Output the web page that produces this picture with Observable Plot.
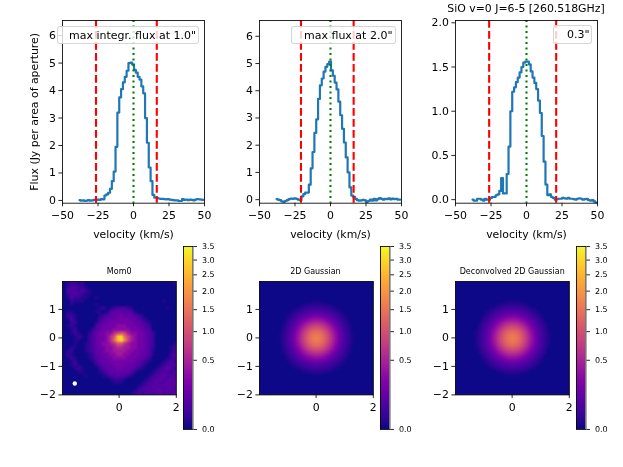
<!DOCTYPE html>
<html><head><meta charset="utf-8">
<script src="https://cdn.jsdelivr.net/npm/d3@7"></script>
<script src="https://cdn.jsdelivr.net/npm/@observablehq/plot@0.6"></script>
<style>
html,body{margin:0;padding:0;background:#fff}
#page{position:relative;width:623px;height:467px;overflow:hidden;font-family:"DejaVu Sans",sans-serif;color:#000;filter:blur(.3px)}
#page svg{position:absolute;background:transparent;overflow:visible;max-width:none}
.legend{position:absolute;box-sizing:border-box;background:rgba(255,255,255,.8);border:1px solid rgba(204,204,204,.8);border-radius:3px;font-size:11px;line-height:17px;white-space:pre}
.title{position:absolute;white-space:nowrap;transform:translateX(-50%)}
</style></head><body><div id="page"></div>
<script>
const velocity=[-38,-36.7,-35.4,-34.1,-32.8,-31.5,-30.2,-28.9,-27.6,-26.3,-25,-23.7,-22.4,-21.1,-19.8,-18.5,-17.2,-15.9,-14.6,-13.3,-12,-10.7,-9.4,-8.1,-6.8,-5.5,-4.2,-2.9,-1.6,-0.3,1,2.3,3.6,4.9,6.2,7.5,8.8,10.1,11.4,12.7,14,15.3,16.6,17.9,19.2,20.5,21.8,23.1,24.4,25.7,27,28.3,29.6,30.9,32.2,33.5,34.8,36.1,37.4,38.7,40,41.3,42.6,43.9,45.2,46.5,47.8,49.1];
const flux1=[.01,-.01,0,-.02,-.01,.01,-.01,0,.02,.01,.03,.02,.05,.04,.18,.22,.28,.42,.7,1.05,1.95,3.2,3.75,4.05,4.3,4.5,4.72,5.0,5.02,4.95,4.75,4.65,4.5,4.4,4.15,3.9,3.0,2.1,1.2,.7,.2,.1,.09,.07,.06,.06,.05,.04,.05,.03,.02,.01,0,0,-.02,-.02,.05,.02,.03,.01,.03,.02,0,.03,.05,.04,.03,.02];
const flux2=[.02,0,-.02,-.06,-.08,-.05,-.02,.02,.04,.03,.05,.03,0,-.02,.12,.2,.26,.26,.55,1.15,1.75,2.45,2.95,3.7,4.2,4.45,4.7,4.88,4.98,5.07,4.75,4.55,4.3,4.05,3.6,3.1,2.6,2.1,1.55,1.0,.45,.15,.1,.03,-.02,-.04,-.03,-.01,-.03,-.08,-.05,0,-.04,.03,-.03,.02,.06,.03,0,.03,.02,.05,.01,.04,.02,.03,0,0];
const flux3=[0,-.01,-.01,.01,.01,0,-.01,.01,0,0,.02,.03,.03,.05,.06,.1,.245,.07,.07,.29,.6,1.0,1.22,1.27,1.33,1.38,1.44,1.5,1.55,1.56,1.56,1.53,1.45,1.38,1.32,1.25,1.12,.98,.72,.43,.17,.05,.06,.03,.02,0,.005,.01,.01,.02,.015,.01,.02,.01,.01,.005,0,.01,.015,.01,0,.005,.01,-.005,-.01,-.005,-.02,-.03];
const bounds1=[-26.4,16.4], bounds2=[-20.8,16.3], bounds3=[-26.3,20.9];
const centerVelocity=[0];
const velocityTicks=[-50,-25,0,25,50];
const fluxTicks1=[0,1,2,3,4,5,6], fluxTicks3=[0,0.5,1,1.5,2];
const colorbarTicks=[0,0.5,1,1.5,2,2.5,3,3.5];
const beam=[{x:-1.55,y:-1.6}];
// Mom0 map, read by eye: one character per cell, mapped to a level in Jy
const mom0Levels={0:0,1:.005,2:.025,3:.06,4:.11,5:.17,6:.28,7:.42,8:.6,9:.8,a:1.0,b:1.3,c:1.7,d:2.1,e:2.5,f:2.9,g:3.3};
const mom0Rows=[
"01221200000000000000000000000001",
"02332210000000000000000000000000",
"03332321000000000000000000000000",
"02333211000000000000000000000000",
"01322110010000000000000000000000",
"00211100000000000000000000001000",
"00100000010000000000000000000000",
"00000000001201233321000000000100",
"01100000011013444343100000000000",
"02210000001234445444321000000000",
"01310000002344455554432100000000",
"00220000013445555555443210000000",
"01210000034455566655544320000000",
"00120000234555666665554330000000",
"0012100134556689a976655432000000",
"00012102345568aefb97655432000000",
"00011002345568begc97655432000000",
"000100123456678aa876655432000001",
"00110012345566788776655432000012",
"01200012344566777766554431000012",
"02100001244556677665554431000023",
"01210001234455666655544320000123",
"00120000134445555555443210001232",
"00121000023444555544432100012333",
"00012100002344455444321000123432",
"00001100001234444443100001233323",
"00000010000123343321000012334333",
"00000000000001222100000123343343",
"00000000000000111000001233433434",
"00000000000000000000012334334343",
"00000000000000000000123333443433",
"00000000000000000001232333343334"];
// Gaussian maps: one quadrant (centre outward) read by eye, in mJy; mirrored to the full map
const gaussianQuadrant=[
[1650,1555,1300,970,641,377,197,92,38,11,1,0,0,0,0,0],
[1555,1465,1226,914,604,355,186,86,36,10,1,0,0,0,0,0],
[1300,1226,1029,765,506,298,156,72,30,8,0,0,0,0,0,0],
[970,914,765,569,377,222,116,54,22,4,0,0,0,0,0,0],
[641,604,506,377,250,147,77,36,12,2,0,0,0,0,0,0],
[377,355,298,222,147,86,45,20,5,0,0,0,0,0,0,0],
[197,186,156,116,77,45,24,8,1,0,0,0,0,0,0,0],
[92,86,72,54,36,20,8,2,0,0,0,0,0,0,0,0],
[38,36,30,22,12,5,1,0,0,0,0,0,0,0,0,0],
[11,10,8,4,2,0,0,0,0,0,0,0,0,0,0,0],
[1,1,0,0,0,0,0,0,0,0,0,0,0,0,0,0],
[0,0,0,0,0,0,0,0,0,0,0,0,0,0,0,0],
[0,0,0,0,0,0,0,0,0,0,0,0,0,0,0,0],
[0,0,0,0,0,0,0,0,0,0,0,0,0,0,0,0],
[0,0,0,0,0,0,0,0,0,0,0,0,0,0,0,0],
[0,0,0,0,0,0,0,0,0,0,0,0,0,0,0,0]];
const deconvolvedQuadrant=[
[1600,1513,1278,966,653,394,213,102,44,14,2,0,0,0,0,0],
[1513,1430,1208,913,618,372,201,97,42,13,2,0,0,0,0,0],
[1278,1208,1022,772,522,315,170,82,35,10,1,0,0,0,0,0],
[966,913,772,584,394,238,129,62,26,6,0,0,0,0,0,0],
[653,618,522,394,267,161,87,42,16,3,0,0,0,0,0,0],
[394,372,315,238,161,97,52,24,7,0,0,0,0,0,0,0],
[213,201,170,129,87,52,28,10,2,0,0,0,0,0,0,0],
[102,97,82,62,42,24,10,3,0,0,0,0,0,0,0,0],
[44,42,35,26,16,7,2,0,0,0,0,0,0,0,0,0],
[14,13,10,6,3,0,0,0,0,0,0,0,0,0,0,0],
[2,2,1,0,0,0,0,0,0,0,0,0,0,0,0,0],
[0,0,0,0,0,0,0,0,0,0,0,0,0,0,0,0],
[0,0,0,0,0,0,0,0,0,0,0,0,0,0,0,0],
[0,0,0,0,0,0,0,0,0,0,0,0,0,0,0,0],
[0,0,0,0,0,0,0,0,0,0,0,0,0,0,0,0],
[0,0,0,0,0,0,0,0,0,0,0,0,0,0,0,0]];

const page=document.getElementById("page");
const FONT="DejaVu Sans", FS=10.9;
const colorOpts={type:"sqrt",domain:[0,3.5],scheme:"plasma"};
function place(svg,left,top){svg.style.left=left+"px";svg.style.top=top+"px";page.appendChild(svg);}
function text(cls,html,css){const d=document.createElement("div");d.className=cls;d.textContent=html;Object.assign(d.style,css);page.appendChild(d);}

function spectrum({flux,bounds,left,yDomain,yTicks,yFormat,yLabel}){
  const W=142,H=182.7,ml=50,mr=12,mt=4,mb=40;
  const rows=velocity.map((v,i)=>({v,f:flux[i]}));
  const svg=Plot.plot({width:W+ml+mr,height:H+mt+mb,marginLeft:ml,marginRight:mr,marginTop:mt,marginBottom:mb,
    style:{fontFamily:FONT,fontSize:FS+"px",color:"#000",fontVariant:"normal"},
    x:{domain:[-50,50]},y:{domain:yDomain},
    marks:[
      Plot.line(rows,{x:"v",y:"f",curve:"step",stroke:"#1f77b4",strokeWidth:2.2}),
      Plot.ruleX(bounds,{stroke:"#ff0000",strokeWidth:2.1,strokeDasharray:"7.7,3.3"}),
      Plot.ruleX(centerVelocity,{stroke:"#008000",strokeWidth:2.1,strokeDasharray:"2.1,3.4"}),
      Plot.frame({stroke:"#000",strokeWidth:.85}),
      Plot.axisX({ticks:velocityTicks,tickSize:3.6,tickPadding:4,stroke:"#000",fill:"#000",strokeWidth:.85,label:"velocity (km/s)",labelAnchor:"center",labelArrow:"none",labelOffset:35}),
      Plot.axisY({ticks:yTicks,tickFormat:yFormat,tickSize:3.6,tickPadding:3,stroke:"#000",fill:"#000",strokeWidth:.85,label:yLabel||null,labelAnchor:"center",labelArrow:"none",labelOffset:32})
    ]});
  place(svg,left-ml,20-mt);
}
spectrum({flux:flux1,bounds:bounds1,left:62.3,yDomain:[-0.1,6.55],yTicks:fluxTicks1,yFormat:d3.format("d"),yLabel:"Flux (Jy per area of aperture)"});
spectrum({flux:flux2,bounds:bounds2,left:258.7,yDomain:[-0.13,6.58],yTicks:fluxTicks1,yFormat:d3.format("d")});
spectrum({flux:flux3,bounds:bounds3,left:455.3,yDomain:[-0.04,2.026],yTicks:fluxTicks3,yFormat:d3.format(".1f")});

function image({values,cols,rows,left,title,extra,cbLeft}){
  const W=113.8,H=113.4,ml=30,mr=6,mt=4,mb=24;
  const svg=Plot.plot({width:W+ml+mr,height:H+mt+mb,marginLeft:ml,marginRight:mr,marginTop:mt,marginBottom:mb,
    style:{fontFamily:FONT,fontSize:FS+"px",color:"#000",fontVariant:"normal"},
    x:{domain:[-1.98,2]},y:{domain:[-2,1.98]},color:colorOpts,
    marks:[
      Plot.raster(values,{width:cols,height:rows,x1:-1.98,x2:2,y1:1.98,y2:-2,fill:d=>d,imageRendering:"auto"}),
      ...(extra||[]),
      Plot.frame({stroke:"#000",strokeWidth:.85}),
      Plot.axisX({ticks:[0,2],tickFormat:d3.format("d"),tickSize:3.6,tickPadding:5,stroke:"#000",fill:"#000",strokeWidth:.85,label:null}),
      Plot.axisY({ticks:[-2,-1,0,1],tickFormat:d3.format("d"),tickSize:3.6,tickPadding:3,stroke:"#000",fill:"#000",strokeWidth:.85,label:null})
    ]});
  place(svg,left-ml,280.7-mt);
  text("title",title,{left:(left+W/2)+"px",top:"266.5px",fontSize:"8px",lineHeight:"9px"});
  colorbar(cbLeft);
}
function colorbar(left){
  const W=9.4,H=183,ml=1,mr=24,mt=4,mb=4;
  const n=260, levels=d3.range(n).map(i=>3.5*(i/n)*(i/n)), tops=d3.range(1,n+1).map(i=>3.5*(i/n)*(i/n));
  const bands=levels.map((lo,i)=>({lo,hi:tops[i]}));
  const svg=Plot.plot({width:W+ml+mr,height:H+mt+mb,marginLeft:ml,marginRight:mr,marginTop:mt,marginBottom:mb,
    style:{fontFamily:FONT,fontSize:"8px",color:"#000",fontVariant:"normal"},
    x:{domain:[0,1],axis:null},y:{type:"sqrt",domain:[0,3.5]},color:colorOpts,
    marks:[
      Plot.rect(bands,{x1:0,x2:1,y1:"lo",y2:"hi",fill:"lo",shapeRendering:"crispEdges"}),
      Plot.frame({stroke:"#000",strokeWidth:.85}),
      Plot.axisY({anchor:"right",ticks:colorbarTicks,tickFormat:d3.format(".1f"),tickSize:3.6,tickPadding:5.5,stroke:"#000",fill:"#000",strokeWidth:.85,label:null})
    ]});
  place(svg,left-ml,246-mt);
}
const mom0Values=mom0Rows.flatMap(r=>Array.from(r,c=>mom0Levels[c]));
// mirror a centre-outward quadrant into a full (2n-1)x(2n-1) map, in Jy
const unfold=q=>{const row=r=>[...r.slice(1).reverse(),...r];return [...q.slice(1).reverse(),...q].flatMap(row).map(v=>v/1000);};
image({values:mom0Values,cols:32,rows:32,left:62.3,title:"Mom0",cbLeft:183,
  extra:[Plot.dot(beam,{x:"x",y:"y",r:2.2,fill:"#fff",stroke:"none"})]});
image({values:unfold(gaussianQuadrant),cols:31,rows:31,left:258.5,title:"2D Gaussian",cbLeft:379.7});
image({values:unfold(deconvolvedQuadrant),cols:31,rows:31,left:455.3,title:"Deconvolved 2D Gaussian",cbLeft:576});

text("title","SiO v=0 J=6-5 [260.518GHz]",{left:"526px",top:"2px",fontSize:"10.9px",lineHeight:"13px"});
text("legend",'max integr. flux at 1.0"',{left:"57px",top:"26px",width:"142px",height:"18px",paddingLeft:"11px"});
text("legend",'max flux at 2.0"',{left:"291px",top:"26px",width:"105px",height:"18px",paddingLeft:"12px"});
text("legend",'0.3"',{left:"553px",top:"25px",width:"39px",height:"19px",paddingLeft:"13px"});
</script></body></html>
